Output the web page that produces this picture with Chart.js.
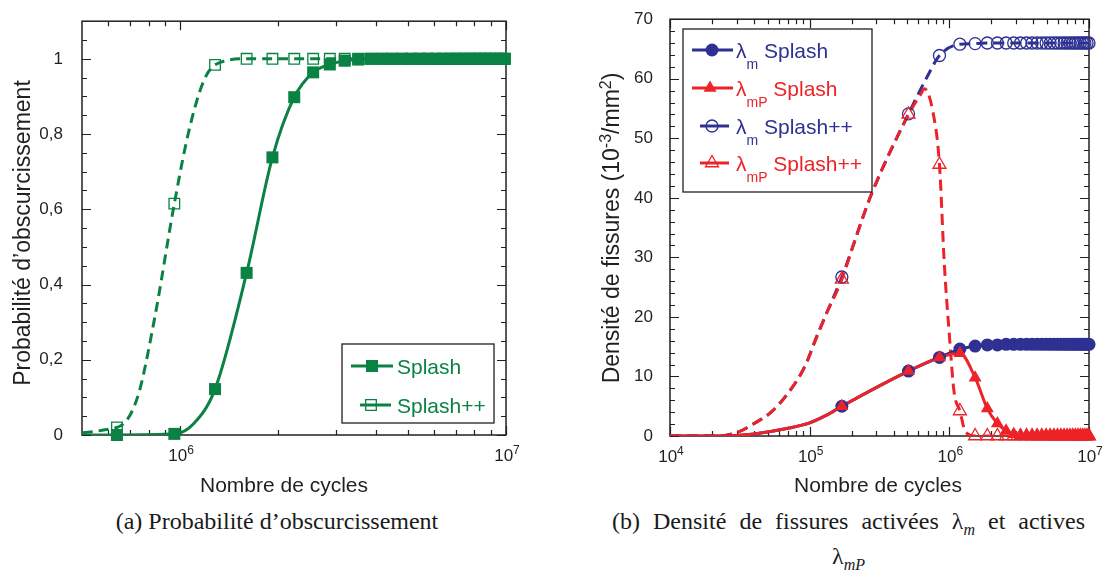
<!DOCTYPE html>
<html>
<head>
<meta charset="utf-8">
<title>Probabilité d'obscurcissement et densité de fissures</title>
<script src="https://cdn.jsdelivr.net/npm/chart.js@4.4.1/dist/chart.umd.min.js"></script>
<style>
  body { margin: 0; background: #fff; }
  .page { position: relative; width: 1105px; height: 573px; overflow: hidden; }
  #chart-a { position: absolute; left: 0; top: 0; }
  #chart-b { position: absolute; left: 560px; top: 0; }
  .caption { position: absolute; font-family: "Liberation Serif", "Times New Roman", serif;
    font-size: 24px; line-height: 35px; color: #1a1a1a; white-space: nowrap; }
  .caption sub { font-size: 16px; line-height: 0; }
  #cap-a { left: 0; top: 504px; width: 554px; text-align: center; }
  #cap-b1 { left: 612px; top: 504px; width: 473px; white-space: normal; text-align: justify; text-align-last: justify; }
  #cap-b2 { left: 612px; top: 539px; width: 473px; text-align: center; }
</style>
</head>
<body>
<div class="page">
  <canvas id="chart-a" width="550" height="500"></canvas>
  <canvas id="chart-b" width="545" height="500"></canvas>
  <div class="caption" id="cap-a">(a) Probabilité d’obscurcissement</div>
  <div class="caption" id="cap-b1">(b) Densité de fissures activées λ<sub><i>m</i></sub> et actives</div>
  <div class="caption" id="cap-b2">λ<sub><i>mP</i></sub></div>
</div>
<script>
const green = '#0a8244'
const blue = '#2e3192'
const red = '#ec2328'
const ink = '#231f20'
const sans = '"Liberation Sans", Arial, sans-serif'

// (a) probabilite d'obscurcissement, markers every 0.32e6 cycles
const cyclesA = [6.4e5, 9.6e5, 1.28e6, 1.6e6, 1.92e6, 2.24e6, 2.56e6, 2.88e6, 3.2e6, 3.52e6,
  3.84e6, 4.16e6, 4.48e6, 4.8e6, 5.12e6, 5.44e6, 5.76e6, 6.08e6, 6.4e6, 6.72e6,
  7.04e6, 7.36e6, 7.68e6, 8.0e6, 8.32e6, 8.64e6, 8.96e6, 9.28e6, 9.6e6, 9.92e6]
const probSplash = [0, 0.003, 0.122, 0.431, 0.738, 0.898, 0.964, 0.985, 0.995, 0.998,
  1, 1, 1, 1, 1, 1, 1, 1, 1, 1,
  1, 1, 1, 1, 1, 1, 1, 1, 1, 1]
const probSplashPP = [0.02, 0.615, 0.984, 1, 1, 1, 1, 1, 1, 1,
  1, 1, 1, 1, 1, 1, 1, 1, 1, 1,
  1, 1, 1, 1, 1, 1, 1, 1, 1, 1]
// points of the curves that carry no marker
const curveSplashX = [3.2e5, 1.1e6]
const curveSplashY = [0, 0.03]
const curveSplashPPX = [3.2e5, 7.4e5, 8.35e5, 1.065e6, 1.18e6]
const curveSplashPPY = [0, 0.1, 0.31, 0.81, 0.94]
const majorXA = [1e6, 1e7]
const minorXA = [6e5, 7e5, 8e5, 9e5, 2e6, 3e6, 4e6, 5e6, 6e6, 7e6, 8e6, 9e6]
const majorYA = [0, 0.2, 0.4, 0.6, 0.8, 1]
const minorYA = [0.05, 0.1, 0.15, 0.25, 0.3, 0.35, 0.45, 0.5, 0.55, 0.65, 0.7, 0.75, 0.85, 0.9, 0.95, 1.05]

// (b) densite de fissures, markers every 0.34e6 cycles
const cyclesB = [1.7e5, 5.1e5, 8.5e5, 1.19e6, 1.53e6, 1.87e6, 2.21e6, 2.55e6, 2.89e6, 3.23e6,
  3.57e6, 3.91e6, 4.25e6, 4.59e6, 4.93e6, 5.27e6, 5.61e6, 5.95e6, 6.29e6, 6.63e6,
  6.97e6, 7.31e6, 7.65e6, 7.99e6, 8.33e6, 8.67e6, 9.01e6, 9.35e6, 9.69e6, 1.0e7]
const lamM = [5.0, 10.9, 13.2, 14.6, 15.1, 15.3, 15.3, 15.4, 15.4, 15.4,
  15.4, 15.4, 15.4, 15.4, 15.4, 15.4, 15.4, 15.4, 15.4, 15.4,
  15.4, 15.4, 15.4, 15.4, 15.4, 15.4, 15.4, 15.4, 15.4, 15.4]
const lamMP = [5.0, 10.9, 13.2, 13.9, 9.8, 4.6, 2.1, 0.9, 0.3, 0.1,
  0, 0, 0, 0, 0, 0, 0, 0, 0, 0,
  0, 0, 0, 0, 0, 0, 0, 0, 0, 0]
const lamMpp = [26.7, 54.1, 63.9, 65.8, 65.9, 66, 66, 66, 66, 66,
  66, 66, 66, 66, 66, 66, 66, 66, 66, 66,
  66, 66, 66, 66, 66, 66, 66, 66, 66, 66]
const lamMPpp = [26.3, 54.0, 45.6, 4.2, 0, 0, 0, 0, 0, 0,
  0, 0, 0, 0, 0, 0, 0, 0, 0, 0,
  0, 0, 0, 0, 0, 0, 0, 0, 0, 0]
// unmarked parts of the curves
const earlyX = [1e4, 2e4, 3e4, 4e4, 7e4, 1e5, 1.32e5]
const earlyY = [0, 0, 0.1, 0.35, 1.3, 2.2, 3.5]
const earlyXpp = [1e4, 2.2e4, 3.1e4, 4e4, 5.3e4, 7e4, 9.2e4, 1.12e5, 1.32e5, 2.03e5, 2.36e5, 2.8e5]
const earlyYpp = [0, 0, 0.7, 2.1, 4.0, 7.2, 11.6, 16.6, 20.6, 31.7, 36.2, 40.9]
const riseXpp = [7.0e5]
const riseYpp = [60.5]
const dropXpp = [6.2e5, 6.65e5, 7.6e5, 9.2e5, 1.0e6, 1.08e6, 1.3e6]
const dropYpp = [57.3, 58.3, 54.6, 29, 17, 7.5, 0.8]
const majorXB = [1e4, 1e5, 1e6, 1e7]
const minorXB = [2e4, 3e4, 4e4, 5e4, 6e4, 7e4, 8e4, 9e4, 2e5, 3e5, 4e5, 5e5, 6e5, 7e5, 8e5, 9e5,
  2e6, 3e6, 4e6, 5e6, 6e6, 7e6, 8e6, 9e6]
const majorYB = [0, 10, 20, 30, 40, 50, 60, 70]
const minorYB = [2, 4, 6, 8, 12, 14, 16, 18, 22, 24, 26, 28, 32, 34, 36, 38, 42, 44, 46, 48,
  52, 54, 56, 58, 62, 64, 66, 68]

function pts(xs, ys) { return xs.map((x, i) => ({x: x, y: ys[i]})) }
function curve() {
  let out = []
  for (let i = 0; i < arguments.length; i += 2) out = out.concat(pts(arguments[i], arguments[i + 1]))
  return out.sort((p, q) => p.x - q.x)
}

// text with sub/superscripts, parts = [{text, size, dy}]
function richText(ctx, parts, x, y, rot, color, align) {
  ctx.save()
  ctx.translate(x, y)
  ctx.rotate(rot || 0)
  ctx.fillStyle = color
  ctx.textBaseline = 'alphabetic'
  ctx.textAlign = 'left'
  let total = 0
  const w = parts.map(p => { ctx.font = p.size + 'px ' + sans; const m = ctx.measureText(p.text).width; total += m; return m })
  let cx = align === 'left' ? 0 : -total / 2
  parts.forEach((p, i) => { ctx.font = p.size + 'px ' + sans; ctx.fillText(p.text, cx, p.dy || 0); cx += w[i] })
  ctx.restore()
}

function marker(ctx, shape, x, y, r, fill, color) {
  ctx.beginPath()
  if (shape === 'circle') ctx.arc(x, y, r, 0, Math.PI * 2)
  else if (shape === 'rect') { const s = r * Math.SQRT1_2; ctx.rect(x - s, y - s, 2 * s, 2 * s) }
  else {
    for (let k = 0; k < 3; k++) {
      const a = k * 2 * Math.PI / 3
      const px = x + Math.sin(a) * r, py = y - Math.cos(a) * r
      if (k) ctx.lineTo(px, py); else ctx.moveTo(px, py)
    }
    ctx.closePath()
  }
  ctx.setLineDash([])
  if (fill) { ctx.fillStyle = color; ctx.fill() }
  else { ctx.strokeStyle = color; ctx.lineWidth = 1.3; ctx.stroke() }
}

// box, inward ticks on the four sides, 10^n labels, axis titles
function frame(ax, titles) {
  return {
    id: 'frame',
    beforeDatasetsDraw(chart) {
      const {ctx, chartArea: a, scales: {x, y}} = chart
      ctx.save()
      ctx.strokeStyle = ink
      ctx.lineWidth = 1.5
      ctx.strokeRect(a.left, a.top, a.right - a.left, a.bottom - a.top)
      ctx.lineWidth = 1.2
      ctx.beginPath()
      const xt = (v, len) => {
        const p = Math.round(x.getPixelForValue(v)) + 0.5
        ctx.moveTo(p, a.bottom); ctx.lineTo(p, a.bottom - len)
        ctx.moveTo(p, a.top); ctx.lineTo(p, a.top + len)
      }
      const yt = (v, len) => {
        const p = Math.round(y.getPixelForValue(v)) + 0.5
        ctx.moveTo(a.left, p); ctx.lineTo(a.left + len, p)
        ctx.moveTo(a.right, p); ctx.lineTo(a.right - len, p)
      }
      ax.majorX.forEach(v => xt(v, 9))
      ax.minorX.forEach(v => xt(v, 5))
      ax.majorY.forEach(v => yt(v, 9))
      ax.minorY.forEach(v => yt(v, 5))
      ctx.stroke()
      ctx.restore()
    },
    afterDraw(chart) {
      const {ctx, chartArea: a, scales: {x}} = chart
      ax.majorX.forEach(v => {
        const e = String(Math.round(Math.log10(v)))
        richText(ctx, [{text: '10', size: 17}, {text: e, size: 12, dy: -7}],
          x.getPixelForValue(v) + 1, a.bottom + 25.5, 0, ink)
      })
      titles.forEach(t => richText(ctx, t.parts, t.x, t.y, t.rot, ink))
    }
  }
}

function legendBox(box, items) {
  return {
    id: 'legendBox',
    afterDraw(chart) {
      const ctx = chart.ctx
      ctx.save()
      ctx.fillStyle = '#fff'
      ctx.fillRect(box[0], box[1], box[2] - box[0], box[3] - box[1])
      ctx.strokeStyle = ink
      ctx.lineWidth = 1.3
      ctx.strokeRect(box[0], box[1], box[2] - box[0], box[3] - box[1])
      items.forEach(it => {
        ctx.strokeStyle = it.color
        ctx.lineWidth = 3
        ctx.setLineDash([])
        ctx.beginPath(); ctx.moveTo(it.x0, it.y); ctx.lineTo(it.x1, it.y); ctx.stroke()
        marker(ctx, it.shape, it.mx, it.y, it.r, it.fill, it.color)
        richText(ctx, it.parts, it.tx, it.y + 8, 0, it.color, 'left')
      })
      ctx.restore()
    }
  }
}

function yAxis(min, max, majors, width, pad, fmt) {
  return {
    min: min, max: max,
    grid: {display: false}, border: {display: false},
    afterBuildTicks: s => { s.ticks = majors.map(v => ({value: v})) },
    afterFit: s => { s.width = width },
    ticks: {padding: pad, color: ink, font: {family: sans, size: 17}, callback: fmt}
  }
}
function xAxis(min, max, height) {
  return {
    type: 'logarithmic', min: min, max: max,
    grid: {display: false}, border: {display: false},
    ticks: {display: false},
    afterFit: s => { s.height = height }
  }
}

const lineStyle = (color, dash, order) => ({
  borderColor: color, borderWidth: 3, borderDash: dash, pointRadius: 0,
  cubicInterpolationMode: 'monotone', fill: false, order: order
})
const markStyle = (shape, r, fill, color, order) => ({
  showLine: false, pointStyle: shape, pointRadius: r, pointHoverRadius: r,
  pointBackgroundColor: fill ? color : 'rgba(0,0,0,0)', pointBorderColor: color,
  pointBorderWidth: fill ? 0 : 1.3, clip: false, order: order
})

let chart_a = new Chart(document.querySelector('#chart-a'), {
  type: 'line',
  data: {
    datasets: [
      Object.assign({label: 'Splash', data: pts(cyclesA, probSplash)}, markStyle('rect', 8.5, true, green, 0)),
      Object.assign({data: curve(curveSplashX, curveSplashY, cyclesA, probSplash)}, lineStyle(green, [], 1)),
      Object.assign({label: 'Splash++', data: pts(cyclesA, probSplashPP)}, markStyle('rect', 7.5, false, green, 2)),
      Object.assign({data: curve(curveSplashPPX, curveSplashPPY, cyclesA, probSplashPP)}, lineStyle(green, [10, 6], 3))
    ]
  },
  options: {
    responsive: false, animation: false,
    layout: {padding: {left: 0, top: 11, right: 44, bottom: 0}},
    plugins: {legend: {display: false}, tooltip: {enabled: false}},
    scales: {
      x: xAxis(5e5, 1e7, 65),
      y: yAxis(0, 1.1, majorYA, 82, 11, v => String(v).replace('.', ','))
    }
  },
  plugins: [
    frame({majorX: majorXA, minorX: minorXA, majorY: majorYA, minorY: minorYA}, [
      {parts: [{text: 'Nombre de cycles', size: 21}], x: 284, y: 492, rot: 0},
      {parts: [{text: 'Probabilité d’obscurcissement', size: 23}], x: 30, y: 233, rot: -Math.PI / 2}
    ]),
    legendBox([342, 344, 494, 423], [
      {y: 366, x0: 351, x1: 393, mx: 372, shape: 'rect', r: 8.5, fill: true, color: green, tx: 397,
        parts: [{text: 'Splash', size: 21}]},
      {y: 405, x0: 360, x1: 391, mx: 371, shape: 'rect', r: 7.5, fill: false, color: green, tx: 397,
        parts: [{text: 'Splash++', size: 21}]}
    ])
  ]
})

const lam = (sub, name) => [{text: 'λ', size: 21}, {text: sub, size: 14, dy: 11}, {text: ' ' + name, size: 21}]

let chart_b = new Chart(document.querySelector('#chart-b'), {
  type: 'line',
  data: {
    datasets: [
      Object.assign({data: pts(cyclesB, lamMPpp)}, markStyle('triangle', 7.5, false, red, 0)),
      Object.assign({data: pts(cyclesB, lamMpp)}, markStyle('circle', 6, false, blue, 1)),
      Object.assign({data: pts(cyclesB, lamMP)}, markStyle('triangle', 7.5, true, red, 2)),
      Object.assign({data: pts(cyclesB, lamM)}, markStyle('circle', 6.5, true, blue, 3)),
      Object.assign({data: curve(earlyX, earlyY, cyclesB, lamMP)}, lineStyle(red, [], 4)),
      Object.assign({data: curve(earlyX, earlyY, cyclesB, lamM)}, lineStyle(blue, [], 5)),
      Object.assign({data: curve(earlyXpp, earlyYpp, dropXpp, dropYpp, cyclesB, lamMPpp)}, lineStyle(red, [11, 6], 6)),
      Object.assign({data: curve(earlyXpp, earlyYpp, riseXpp, riseYpp, cyclesB, lamMpp)}, lineStyle(blue, [11, 6], 7))
    ]
  },
  options: {
    responsive: false, animation: false,
    layout: {padding: {left: 0, top: 18, right: 16, bottom: 0}},
    plugins: {legend: {display: false}, tooltip: {enabled: false}},
    scales: {
      x: xAxis(1e4, 1e7, 64),
      y: yAxis(0, 70, majorYB, 110, 9, v => String(v))
    }
  },
  plugins: [
    frame({majorX: majorXB, minorX: minorXB, majorY: majorYB, minorY: minorYB}, [
      {parts: [{text: 'Nombre de cycles', size: 21}], x: 318, y: 492, rot: 0},
      {parts: [{text: 'Densité de fissures (10', size: 23}, {text: '-3', size: 16, dy: -8},
        {text: '/mm', size: 23}, {text: '2', size: 16, dy: -8}, {text: ')', size: 23}],
        x: 59, y: 228, rot: -Math.PI / 2}
    ]),
    legendBox([123, 29, 312, 192], [
      {y: 50, x0: 132, x1: 173, mx: 152, shape: 'circle', r: 6.5, fill: true, color: blue, tx: 176, parts: lam('m', 'Splash')},
      {y: 88, x0: 132, x1: 173, mx: 150, shape: 'triangle', r: 7.5, fill: true, color: red, tx: 176, parts: lam('mP', 'Splash')},
      {y: 126, x0: 140, x1: 169, mx: 152, shape: 'circle', r: 6, fill: false, color: blue, tx: 176, parts: lam('m', 'Splash++')},
      {y: 163, x0: 140, x1: 169, mx: 152, shape: 'triangle', r: 7.5, fill: false, color: red, tx: 176, parts: lam('mP', 'Splash++')}
    ])
  ]
})
</script>
</body>
</html>
